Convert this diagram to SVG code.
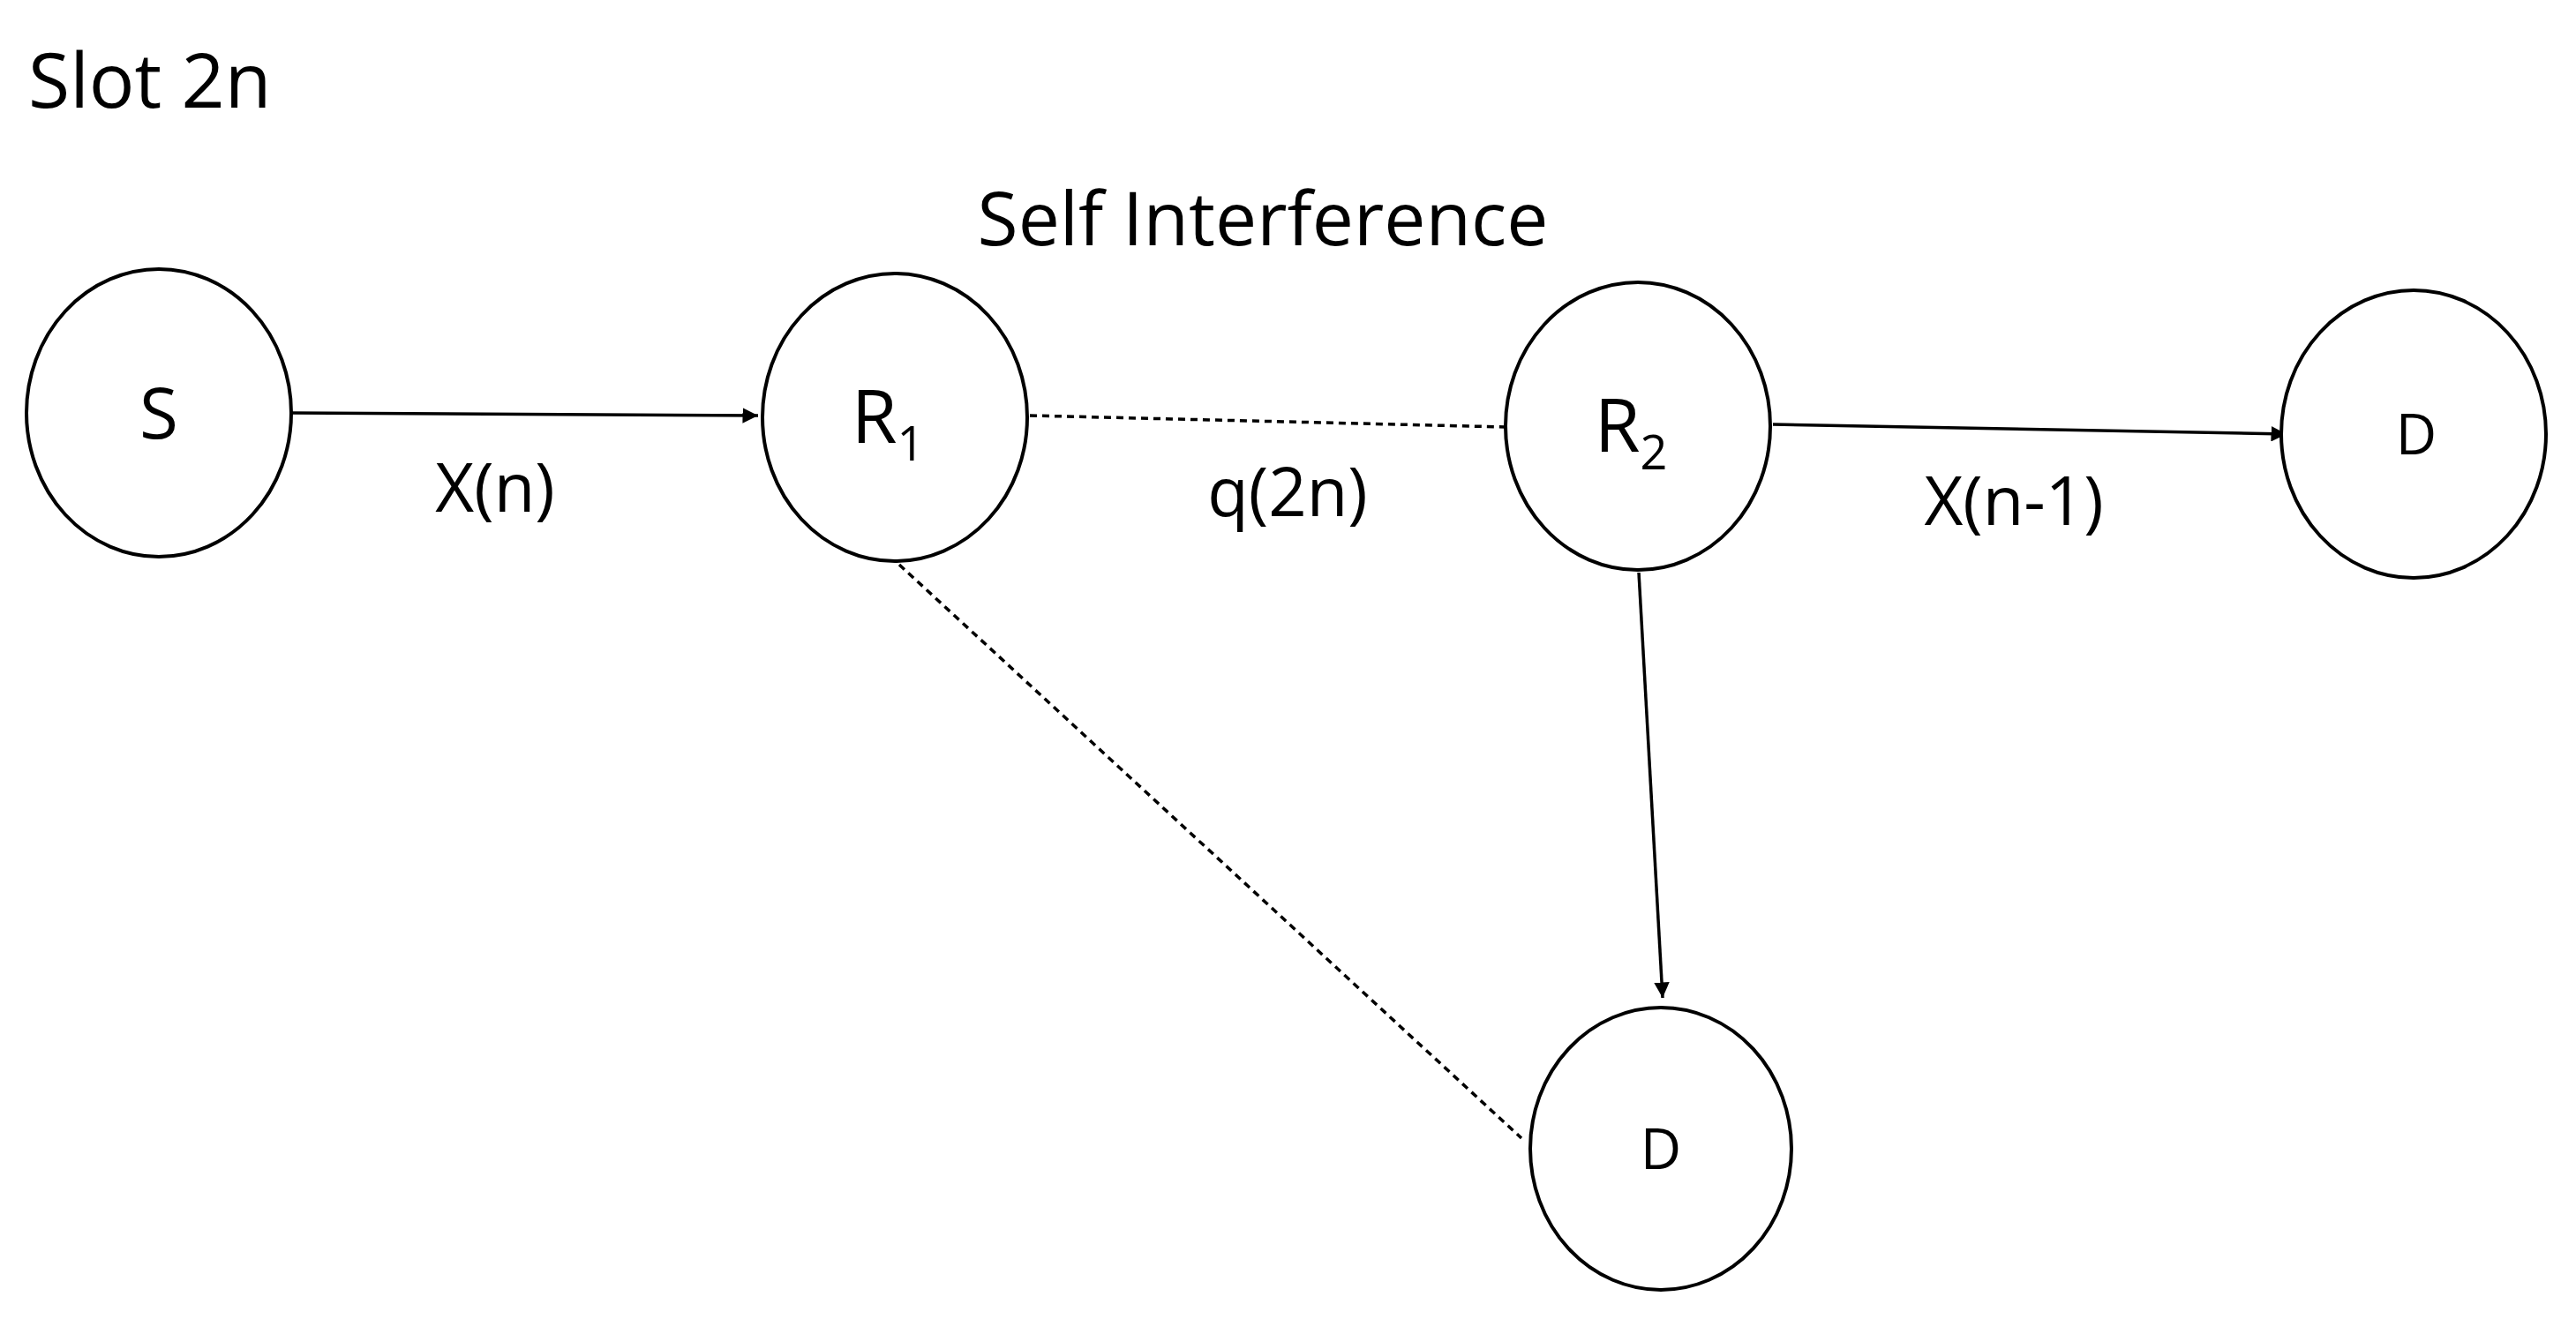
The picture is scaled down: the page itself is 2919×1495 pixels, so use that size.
<svg xmlns="http://www.w3.org/2000/svg" width="2919" height="1495" viewBox="0 0 2919 1495">
<style>
.n{fill:#fff;stroke:#000;stroke-width:4}
text{font-family:"Open Sans","Liberation Sans",sans-serif;fill:#000}
.c{stroke:#000;stroke-width:3.5;fill:none}
.d{stroke-dasharray:8 6}
</style>
<defs><marker id="a" viewBox="0 0 10 10" refX="10" refY="5" markerWidth="5" markerHeight="5" orient="auto"><path d="M0,0L10,5L0,10z" fill="#000"/></marker></defs>
<rect width="2919" height="1495" fill="#fff"/>
<text x="32" y="122" font-size="86">Slot 2n</text>
<text x="1431" y="278" font-size="84" text-anchor="middle">Self Interference</text>
<g id="connectors">
<line class="c" x1="329" y1="468" x2="859" y2="471" marker-end="url(#a)"/>
<line class="c d" x1="1167" y1="471" x2="1706" y2="484"/>
<line class="c" x1="2009" y1="481" x2="2591" y2="492" marker-end="url(#a)"/>
<line class="c" x1="1857" y1="649" x2="1884" y2="1131" marker-end="url(#a)"/>
<line class="c d" x1="1019" y1="640" x2="1724" y2="1290"/>
<text x="561" y="580" font-size="76" text-anchor="middle">X(n)</text>
<text x="1459" y="585" font-size="76" text-anchor="middle">q(2n)</text>
<text x="2282" y="595" font-size="76" text-anchor="middle">X(n-1)</text>
</g>
<g id="S"><ellipse class="n" cx="180" cy="468" rx="150" ry="163"/><text x="180" y="497" font-size="80" text-anchor="middle">S</text></g>
<g id="R1"><ellipse class="n" cx="1014" cy="473" rx="150" ry="163"/><text x="1006" y="502" font-size="84" text-anchor="middle">R<tspan font-size="54" dy="20">1</tspan></text></g>
<g id="R2"><ellipse class="n" cx="1856" cy="483" rx="150" ry="163"/><text x="1848" y="512" font-size="84" text-anchor="middle">R<tspan font-size="54" dy="20">2</tspan></text></g>
<g id="D1"><ellipse class="n" cx="2735" cy="492" rx="150" ry="163"/><text x="2738" y="515" font-size="64" text-anchor="middle">D</text></g>
<g id="D2"><ellipse class="n" cx="1882" cy="1302" rx="148" ry="160"/><text x="1882" y="1325" font-size="64" text-anchor="middle">D</text></g>
</svg>
